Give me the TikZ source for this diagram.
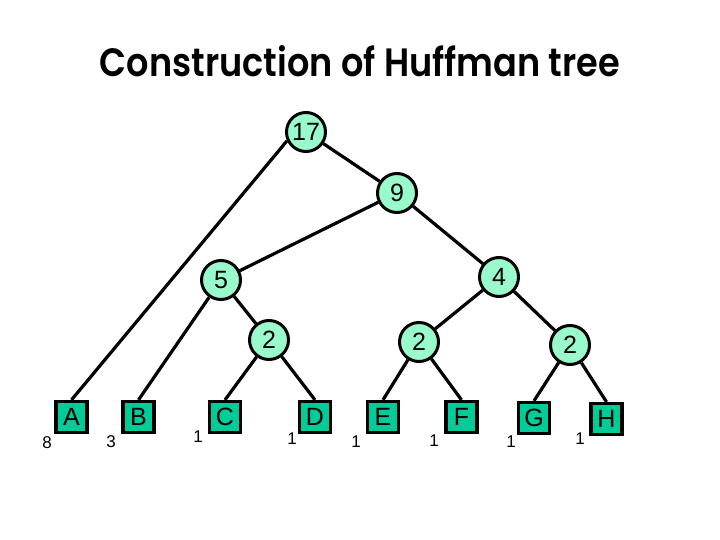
\documentclass[tikz,border=0pt]{standalone}
\usepackage{fontspec}
\setmainfont{Liberation Sans}
\newfontfamily\titlefont{Poppins}[BoldFont={Poppins SemiBold}]
\definecolor{mint}{RGB}{153,250,204}
\definecolor{leafgreen}{RGB}{0,204,153}
\begin{document}
\begin{tikzpicture}[x=1pt,y=-1pt,
  inner/.style={circle,draw=black,line width=3pt,fill=mint,minimum size=39pt,inner sep=0pt,font=\fontsize{25}{25}\selectfont},
  leaf/.style={rectangle,draw=black,line width=3.2pt,fill=leafgreen,minimum size=31pt,inner sep=0pt,font=\fontsize{25}{25}\selectfont},
  wt/.style={inner sep=0pt,font=\fontsize{17}{17}\selectfont},
  link/.style={line width=3.2pt}]
\useasboundingbox (0,0) rectangle (720,540);
\node (title) at (360,61) {\resizebox{520pt}{31pt}{\titlefont\bfseries Construction of Huffman tree}};
% internal nodes
\node[inner] (n17) at (306,132) {17};
\node[inner] (n9) at (397,193) {9};
\node[inner] (n5) at (221,280) {5};
\node[inner] (n4) at (499,277) {4};
\node[inner] (n2a) at (269,340) {2};
\node[inner] (n2b) at (419,342) {2};
\node[inner] (n2c) at (570,345) {2};
% leaves
\node[leaf] (A) at (71.5,417) {A};
\node[leaf] (B) at (138.5,417) {B};
\node[leaf] (C) at (225,417) {C};
\node[leaf] (D) at (315,417) {D};
\node[leaf] (E) at (383,417) {E};
\node[leaf] (F) at (461.5,417) {F};
\node[leaf] (G) at (534,418) {G};
\node[leaf] (H) at (606.5,419) {H};
% weights
\node[wt] (wA) at (47,443) {8};
\node[wt] (wB) at (111,442) {3};
\node[wt] (wC) at (198,437) {1};
\node[wt] (wD) at (292,439) {1};
\node[wt] (wE) at (356,442) {1};
\node[wt] (wF) at (434,441) {1};
\node[wt] (wG) at (511,442) {1};
\node[wt] (wH) at (580,439) {1};
% connectors
\draw[link] (n17.205) -- (A.north);
\draw[link] (n17) -- (n9);
\draw[link] (n9) -- (n5);
\draw[link] (n9) -- (n4);
\draw[link] (n5) -- (B.north);
\draw[link] (n5) -- (n2a);
\draw[link] (n4) -- (n2b);
\draw[link] (n4) -- (n2c);
\draw[link] (n2a) -- (C.north);
\draw[link] (n2a) -- (D.north);
\draw[link] (n2b) -- (E.north);
\draw[link] (n2b) -- (F.north);
\draw[link] (n2c) -- (G.north);
\draw[link] (n2c) -- (H.north);
\end{tikzpicture}
\end{document}
